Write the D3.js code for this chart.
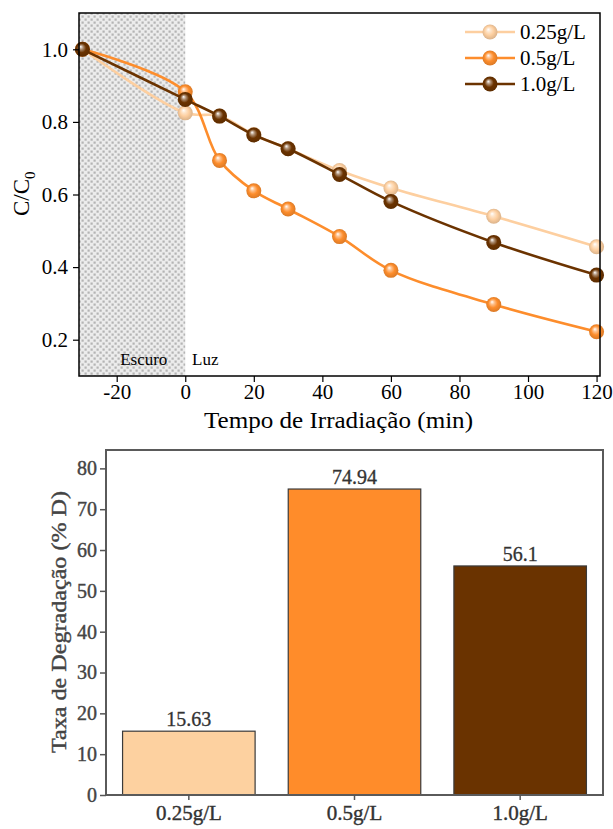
<!DOCTYPE html>
<html><head><meta charset="utf-8">
<script src="https://cdn.jsdelivr.net/npm/d3@7"></script>
<style>
html,body{margin:0;padding:0;background:#fff;}
svg{display:block;}
</style></head>
<body>
<svg id="chart" width="613" height="829"></svg>
<script>
// ---------- data ----------
const times = [-30, 0, 10, 20, 30, 45, 60, 90, 120];
const series025 = [1.0, 0.825, 0.816, 0.765, 0.726, 0.666, 0.618, 0.540, 0.456];
const series05  = [1.0, 0.883, 0.694, 0.610, 0.560, 0.484, 0.391, 0.297, 0.222];
const series10  = [1.0, 0.862, 0.816, 0.764, 0.726, 0.655, 0.581, 0.468, 0.378];
const seriesNames = ["0.25g/L", "0.5g/L", "1.0g/L"];
const seriesColors = ["#fdcfa0", "#fd8d2c", "#6b3300"];
const xTicksTop = [-20, 0, 20, 40, 60, 80, 100, 120];
const yTicksTop = [0.2, 0.4, 0.6, 0.8, 1.0];

const barCategories = ["0.25g/L", "0.5g/L", "1.0g/L"];
const barValues = [15.63, 74.94, 56.1];
const barLabels = ["15.63", "74.94", "56.1"];
const barColors = ["#fdd1a0", "#ff8c2a", "#6a3300"];
const yTicksBottom = [0, 10, 20, 30, 40, 50, 60, 70, 80];

(function(){
const SERIF = '"Liberation Serif","Times New Roman","DejaVu Serif",serif';
const svg = d3.select("#chart");
const defs = svg.append("defs");

// dotted pattern for dark period
const pat = defs.append("pattern").attr("id","dots").attr("patternUnits","userSpaceOnUse")
  .attr("width",6).attr("height",6);
pat.append("rect").attr("width",6).attr("height",6).attr("fill","#ececec");
pat.append("rect").attr("x",0.5).attr("y",0.5).attr("width",2.2).attr("height",2.2).attr("fill","#b4b4b4");
pat.append("rect").attr("x",3.5).attr("y",3.5).attr("width",2.2).attr("height",2.2).attr("fill","#b4b4b4");

// sphere gradients
seriesColors.forEach((c,i)=>{
  const g = defs.append("radialGradient").attr("id","sph"+i)
    .attr("cx","50%").attr("cy","50%").attr("r","55%").attr("fx","38%").attr("fy","32%");
  g.append("stop").attr("offset","0%").attr("stop-color","#ffffff");
  g.append("stop").attr("offset","25%").attr("stop-color", d3.interpolateRgb("#ffffff", c)(0.55));
  g.append("stop").attr("offset","55%").attr("stop-color", c);
  g.append("stop").attr("offset","100%").attr("stop-color", d3.color(c).darker(0.5));
});

// ---------- top chart ----------
const T = {l:79, r:600, t:13, b:376};
const x = d3.scaleLinear().domain([-31, 121]).range([T.l, T.r]);
const y = d3.scaleLinear().domain([0.1, 1.1]).range([T.b, T.t]);

const gTop = svg.append("g");
gTop.append("rect").attr("x", x(-31)).attr("y", T.t).attr("width", x(0)-x(-31)).attr("height", T.b-T.t)
  .attr("fill","url(#dots)");

gTop.append("text").attr("x", x(-19)).attr("y", 365).style("font-family",SERIF).style("font-size","17px").text("Escuro");
gTop.append("text").attr("x", x(2)).attr("y", 365).style("font-family",SERIF).style("font-size","17px").text("Luz");

const allSeries = [series025, series05, series10];
const line = d3.line().x((d,i)=>x(times[i])).y(d=>y(d)).curve(d3.curveCatmullRom.alpha(0.5));
const plotG = gTop.append("g");
allSeries.forEach((s,k)=>{
  plotG.append("path").datum(s).attr("d", line).attr("fill","none")
    .attr("stroke", seriesColors[k]).attr("stroke-width",2.6);
  plotG.selectAll(null).data(s).enter().append("circle")
    .attr("cx",(d,i)=>x(times[i])).attr("cy",d=>y(d)).attr("r",7.5)
    .attr("fill","url(#sph"+k+")");
});

// frame
gTop.append("rect").attr("x",T.l).attr("y",T.t).attr("width",T.r-T.l).attr("height",T.b-T.t)
  .attr("fill","none").attr("stroke","#000").attr("stroke-width",1.5);

const xAxis = d3.axisBottom(x).tickValues(xTicksTop).tickFormat(d => d < 0 ? "-" + Math.abs(d) : String(d))
  .tickSizeOuter(0).tickSizeInner(6).tickPadding(2);
const gx = gTop.append("g").attr("transform",`translate(0,${T.b})`).call(xAxis);
gx.select(".domain").remove();
gx.selectAll("line").attr("stroke","#000").attr("stroke-width",1.2);
gx.selectAll("text").style("font-family",SERIF).style("font-size","21px").attr("fill","#000");

const yAxis = d3.axisLeft(y).tickValues(yTicksTop).tickFormat(d3.format(".1f")).tickSizeOuter(0).tickSizeInner(6).tickPadding(5);
const gy = gTop.append("g").attr("transform",`translate(${T.l},0)`).call(yAxis);
gy.select(".domain").remove();
gy.selectAll("line").attr("stroke","#000").attr("stroke-width",1.2);
gy.selectAll("text").style("font-family",SERIF).style("font-size","21px").attr("fill","#000");

gTop.append("text").attr("x", 204).attr("y", 428)
  .style("font-family",SERIF).style("font-size","23px")
  .attr("textLength",269).attr("lengthAdjust","spacingAndGlyphs")
  .text("Tempo de Irradiação (min)");

const yt = gTop.append("text").attr("transform",`translate(29,216) rotate(-90)`)
  .style("font-family",SERIF).style("font-size","23px");
yt.append("tspan").text("C/C");
yt.append("tspan").attr("dy",6).style("font-size","15px").text("0");

// legend
const lg = gTop.append("g");
seriesNames.forEach((n,k)=>{
  const yy = 32 + k*26;
  lg.append("line").attr("x1",465).attr("x2",515).attr("y1",yy).attr("y2",yy)
    .attr("stroke",seriesColors[k]).attr("stroke-width",2.6);
  lg.append("circle").attr("cx",490).attr("cy",yy).attr("r",7.5).attr("fill","url(#sph"+k+")");
  lg.append("text").attr("x",520).attr("y",yy+7).style("font-family",SERIF).style("font-size","21px").text(n);
});

// ---------- bottom chart ----------
const B = {l:106, r:603, t:450, b:795};
const xb = d3.scaleBand().domain(barCategories).range([B.l, B.r]).paddingInner(0.2).paddingOuter(0.1);
const yb = d3.scaleLinear().domain([0, 84.5]).range([B.b, B.t]);
const bot = svg.append("g");

bot.selectAll(null).data(barValues).enter().append("rect")
  .attr("x",(d,i)=>xb(barCategories[i])).attr("y",d=>yb(d))
  .attr("width",xb.bandwidth()).attr("height",d=>B.b-yb(d))
  .attr("fill",(d,i)=>barColors[i]).attr("stroke","#3a3a3a").attr("stroke-width",1.2);

bot.selectAll(null).data(barValues).enter().append("text")
  .attr("x",(d,i)=>xb(barCategories[i])+xb.bandwidth()/2).attr("y",d=>yb(d)-5)
  .attr("text-anchor","middle").style("font-family",SERIF).style("font-size","20px")
  .attr("fill","#333").attr("stroke","#333").attr("stroke-width",0.3)
  .text((d,i)=>barLabels[i]);

bot.append("rect").attr("x",B.l).attr("y",B.t).attr("width",B.r-B.l).attr("height",B.b-B.t)
  .attr("fill","none").attr("stroke","#5a5a5a").attr("stroke-width",2);

const ybAxis = d3.axisLeft(yb).tickValues(yTicksBottom).tickSizeOuter(0).tickSizeInner(6).tickPadding(3);
const gyb = bot.append("g").attr("transform",`translate(${B.l},0)`).call(ybAxis);
gyb.select(".domain").remove();
gyb.selectAll("line").attr("stroke","#555").attr("stroke-width",1.5);
gyb.selectAll("text").style("font-family",SERIF).style("font-size","20px").attr("fill","#444")
  .attr("stroke","#444").attr("stroke-width",0.4);

const xbAxis = d3.axisBottom(xb).tickSizeOuter(0).tickSizeInner(5).tickPadding(5);
const gxb = bot.append("g").attr("transform",`translate(0,${B.b})`).call(xbAxis);
gxb.select(".domain").remove();
gxb.selectAll("line").attr("stroke","#555").attr("stroke-width",1.5);
gxb.selectAll("text").style("font-family",SERIF).style("font-size","21px").attr("fill","#333")
  .attr("stroke","#333").attr("stroke-width",0.4);

bot.append("text").attr("transform",`translate(66,${622}) rotate(-90)`).attr("text-anchor","middle")
  .style("font-family",SERIF).style("font-size","20px").attr("fill","#444").attr("stroke","#444").attr("stroke-width",0.4)
  .attr("textLength",262).attr("lengthAdjust","spacingAndGlyphs")
  .text("Taxa de Degradação (% D)");
})();
</script>
</body></html>
